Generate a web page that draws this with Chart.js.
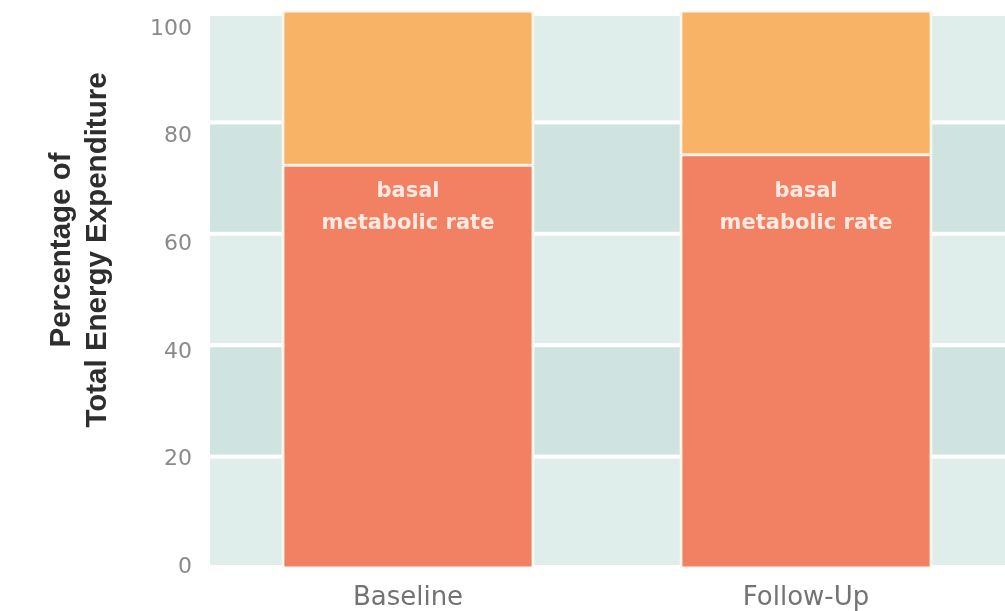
<!DOCTYPE html>
<html>
<head>
<meta charset="utf-8">
<script src="https://cdn.jsdelivr.net/npm/chart.js@4.4.1/dist/chart.umd.min.js"></script>
<style>
  html, body { margin: 0; padding: 0; background: #ffffff; overflow: hidden; }
  #wrap { width: 1005px; height: 611px; position: relative; }
</style>
</head>
<body>
<div id="wrap"><canvas id="chart" width="1005" height="611"></canvas></div>
<script>
// Share of total energy expenditure, by visit
const categories = ['Baseline', 'Follow-Up'];
const basalMetabolicRate = [72.3, 74.2];
const remainingExpenditure = [27.7, 25.8];
const yTicks = [0, 20, 40, 60, 80, 100];
const titleLines = ['Percentage of', 'Total Energy Expenditure'];
const barLabelLines = ['basal', 'metabolic rate'];

const bandLight = '#dfeeeb';
const bandDark = '#cfe4e1';

// Alternating horizontal bands behind the bars, separated by white gaps
const bandsPlugin = {
  id: 'bands',
  beforeDatasetsDraw(chart) {
    const { ctx, chartArea } = chart;
    const y = chart.scales.y;
    ctx.save();
    for (let i = 0; i < yTicks.length - 1; i++) {
      const lo = yTicks[i], hi = yTicks[i + 1];
      const top = y.getPixelForValue(hi) + (i === yTicks.length - 2 ? 5 : 2);
      const bottom = y.getPixelForValue(lo) - (i === 0 ? 3 : 2);
      ctx.fillStyle = i % 2 === 0 ? bandLight : bandDark;
      ctx.fillRect(chartArea.left + 1, top, chartArea.right - chartArea.left, bottom - top);
    }
    ctx.restore();
  }
};

// Two-line label inside each basal metabolic rate bar
const barLabelPlugin = {
  id: 'barLabels',
  afterDatasetsDraw(chart) {
    const { ctx } = chart;
    const y = chart.scales.y;
    const meta = chart.getDatasetMeta(0);
    ctx.save();
    ctx.fillStyle = '#fde9e0';
    ctx.font = 'bold 21px "DejaVu Sans", sans-serif';
    ctx.textAlign = 'center';
    ctx.textBaseline = 'middle';
    const anchor = y.getPixelForValue(67.6);
    meta.data.forEach(bar => {
      barLabelLines.forEach((line, i) => {
        ctx.fillText(line, bar.x, anchor + i * 32);
      });
    });
    ctx.restore();
  }
};

// Rotated two-line axis title on the left
const axisTitlePlugin = {
  id: 'axisTitle',
  afterDraw(chart) {
    const { ctx } = chart;
    ctx.save();
    ctx.fillStyle = '#2e2e2e';
    ctx.font = 'bold 29.5px "Liberation Sans", Arial, sans-serif';
    ctx.textAlign = 'center';
    ctx.textBaseline = 'middle';
    const xs = [62, 98];
    titleLines.forEach((line, i) => {
      ctx.save();
      ctx.translate(xs[i], 250);
      ctx.rotate(-Math.PI / 2);
      ctx.fillText(line, 0, 0);
      ctx.restore();
    });
    ctx.restore();
  }
};

new Chart(document.getElementById('chart'), {
  type: 'bar',
  data: {
    labels: categories,
    datasets: [
      {
        label: 'basal metabolic rate',
        data: basalMetabolicRate,
        backgroundColor: '#f28163',
        borderColor: '#fff6ec',
        borderWidth: { left: 3, right: 3, top: 1.5, bottom: 1.5 },
        borderSkipped: false,
        barPercentage: 1,
        categoryPercentage: 0.636
      },
      {
        label: 'remaining expenditure',
        data: remainingExpenditure,
        backgroundColor: '#f8b366',
        borderColor: '#fff6ec',
        borderWidth: { left: 3, right: 3, top: 1.5, bottom: 1.5 },
        borderSkipped: false,
        barPercentage: 1,
        categoryPercentage: 0.636
      }
    ]
  },
  options: {
    responsive: false,
    animation: false,
    events: [],
    layout: { padding: { top: 11, right: 0, bottom: 0, left: 0 } },
    plugins: {
      legend: { display: false },
      tooltip: { enabled: false }
    },
    scales: {
      x: {
        stacked: true,
        grid: { display: false, drawTicks: false },
        border: { display: false },
        ticks: {
          color: '#737373',
          font: { family: '"DejaVu Sans", sans-serif', size: 26 },
          padding: 15
        },
        afterFit(scale) {
          scale.height = 43;
          scale.paddingLeft = 0;
          scale.paddingRight = 0;
        }
      },
      y: {
        stacked: true,
        min: 0,
        max: 100,
        display: false
      },
      yLabels: {
        position: 'left',
        min: -0.19,
        max: 103.35,
        grid: { display: false, drawTicks: false },
        border: { display: false },
        afterBuildTicks(scale) { scale.ticks = yTicks.map(v => ({ value: v })); },
        ticks: {
          color: '#8a8a8a',
          font: { family: '"DejaVu Sans", sans-serif', size: 22 },
          padding: 17
        },
        afterFit(scale) {
          scale.width = 209;
          scale.paddingTop = 0;
          scale.paddingBottom = 0;
        }
      }
    }
  },
  plugins: [bandsPlugin, barLabelPlugin, axisTitlePlugin]
});
</script>
</body>
</html>
